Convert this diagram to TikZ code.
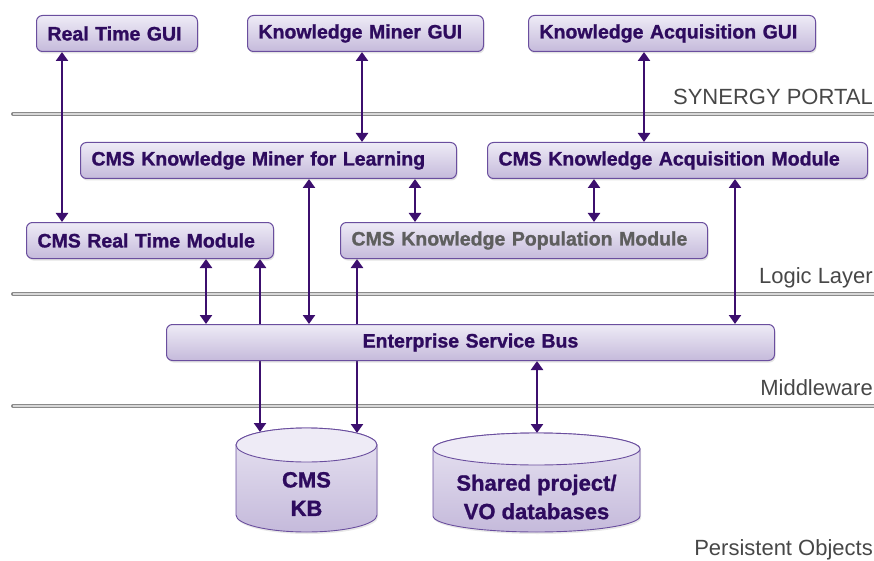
\documentclass[tikz,border=0pt]{standalone}
\usepackage{fontspec}
\setmainfont{Liberation Sans}
\newfontfamily\heavyfont[FakeBold=1.2]{Liberation Sans Bold}
\usetikzlibrary{arrows.meta,shadows}

\definecolor{ink}{HTML}{2E0B5E}
\definecolor{greyink}{HTML}{5E5E5E}
\definecolor{arrowc}{HTML}{3C0F6E}
\definecolor{edge}{HTML}{6A4E9E}
\definecolor{filltop}{HTML}{EEEBF6}
\definecolor{fillbot}{HTML}{C5BADB}
\definecolor{layertext}{HTML}{474747}
\definecolor{layerrule}{HTML}{8A8A8A}
\definecolor{layerfill}{HTML}{D8D8D8}

\pgfdeclarelayer{bg}
\pgfdeclarelayer{mid}
\pgfsetlayers{bg,mid,main}

\begin{document}
\begin{tikzpicture}[x=1pt,y=-1pt,
  modbox/.style={draw=edge, line width=1pt, rounded corners=6pt,
    top color=filltop, bottom color=fillbot,
    drop shadow={opacity=0.22, shadow xshift=1pt, shadow yshift=-2pt},
    minimum height=36pt, inner xsep=11pt, inner ysep=0pt,
    text width=#1, align=left, anchor=north west,
    font=\fontsize{19.5}{22}\heavyfont, text=ink},
  biarrow/.style={draw=arrowc, line width=2.7pt,
    {Triangle[width=12pt,length=9pt]}-{Triangle[width=12pt,length=9pt]}},
  layerline/.style={draw=layerrule, line width=4pt, line cap=round},
  layerinner/.style={draw=layerfill, line width=1.3pt},
  layerlabel/.style={anchor=base east, inner sep=0pt, text=layertext,
    font=\fontsize{22}{24}\selectfont},
  cyl/.style={draw=edge, line width=0.9pt, top color=filltop!85!fillbot, bottom color=fillbot},
  cyltop/.style={draw=edge, line width=0.9pt, fill=filltop},
  dbtext/.style={align=center, text=ink, inner sep=0pt,
    font=\fontsize{22}{28.5}\heavyfont},
]
\useasboundingbox (0,0) rectangle (874,561);

% ---------- layer separators ----------
\begin{pgfonlayer}{bg}
  \foreach \yy in {114,294,406}{
    \draw[layerline] (13,\yy) -- (880,\yy);
    \draw[layerinner] (13,\yy) -- (880,\yy);
  }
\end{pgfonlayer}
\node[layerlabel] (lportal) at (873,105) {SYNERGY PORTAL};
\node[layerlabel] (llogic)  at (873,283) {Logic Layer};
\node[layerlabel] (lmiddle) at (873,395) {Middleware};
\node[layerlabel] (lpersist) at (873,555) {Persistent Objects};

% ---------- portal GUIs ----------
\node[modbox=139pt] (rtgui) at (36,15)  {Real Time GUI};
\node[modbox=214pt] (kmgui) at (247,15) {Knowledge Miner GUI};
\node[modbox=265pt] (kagui) at (528,15) {Knowledge Acquisition GUI};

% ---------- logic modules ----------
\node[modbox=354pt] (kml) at (80,142)  {CMS Knowledge Miner for Learning};
\node[modbox=358pt] (kam) at (487,142) {CMS Knowledge Acquisition Module};
\node[modbox=225pt] (rtm) at (26,222)  {CMS Real Time Module};
\node[modbox=345pt, text=greyink] (kpm) at (340,222) {CMS Knowledge Population Module};

% ---------- middleware ----------
\node[modbox=586pt, align=center] (esb) at (166,324) {Enterprise Service Bus};

% ---------- persistent stores ----------
\path[cyl, drop shadow={opacity=0.18, shadow xshift=1pt, shadow yshift=-2pt}]
  (236,445) -- (236,515) arc[start angle=180, end angle=0, x radius=70.5, y radius=17]
  -- (377,445) arc[start angle=0, end angle=-180, x radius=70.5, y radius=17] -- cycle;
\path[cyltop] (306.5,445) ellipse[x radius=70.5, y radius=17];
\node[dbtext] (kb) at (306.5,494) {CMS\\KB};

\path[cyl, drop shadow={opacity=0.18, shadow xshift=1pt, shadow yshift=-2pt}]
  (433,449) -- (433,516) arc[start angle=180, end angle=0, x radius=103.5, y radius=16]
  -- (640,449) arc[start angle=0, end angle=-180, x radius=103.5, y radius=16] -- cycle;
\path[cyltop] (536.5,449) ellipse[x radius=103.5, y radius=16];
\node[dbtext] (sdb) at (536.5,497) {Shared project/\\VO databases};

% entry points on the cylinder lids
\coordinate (kbinA) at (260,432);
\coordinate (kbinB) at (357,433);
\coordinate (sdbin) at (537,433);

% connector columns
\coordinate (c1) at (62,0);
\coordinate (c2) at (362,0);
\coordinate (c3) at (644,0);
\coordinate (c4) at (415,0);
\coordinate (c5) at (594,0);
\coordinate (c6) at (206,0);
\coordinate (c7) at (260,0);
\coordinate (c8) at (309,0);
\coordinate (c9) at (357,0);
\coordinate (c10) at (735,0);

% ---------- connectors ----------
\begin{pgfonlayer}{mid}
  \draw[biarrow] (rtgui.south -| c1) -- (rtm.north -| c1);
  \draw[biarrow] (kmgui.south -| c2) -- (kml.north -| c2);
  \draw[biarrow] (kagui.south -| c3) -- (kam.north -| c3);
  \draw[biarrow] (kml.south -| c4) -- (kpm.north -| c4);
  \draw[biarrow] (kam.south -| c5) -- (kpm.north -| c5);
  \draw[biarrow] (rtm.south -| c6) -- (esb.north -| c6);
  \draw[biarrow] (rtm.south -| c7) -- (kbinA);
  \draw[biarrow] (kml.south -| c8) -- (esb.north -| c8);
  \draw[biarrow] (kpm.south -| c9) -- (kbinB);
  \draw[biarrow] (kam.south -| c10) -- (esb.north -| c10);
  \draw[biarrow] (esb.south -| sdbin) -- (sdbin);
\end{pgfonlayer}
\end{tikzpicture}
\end{document}
